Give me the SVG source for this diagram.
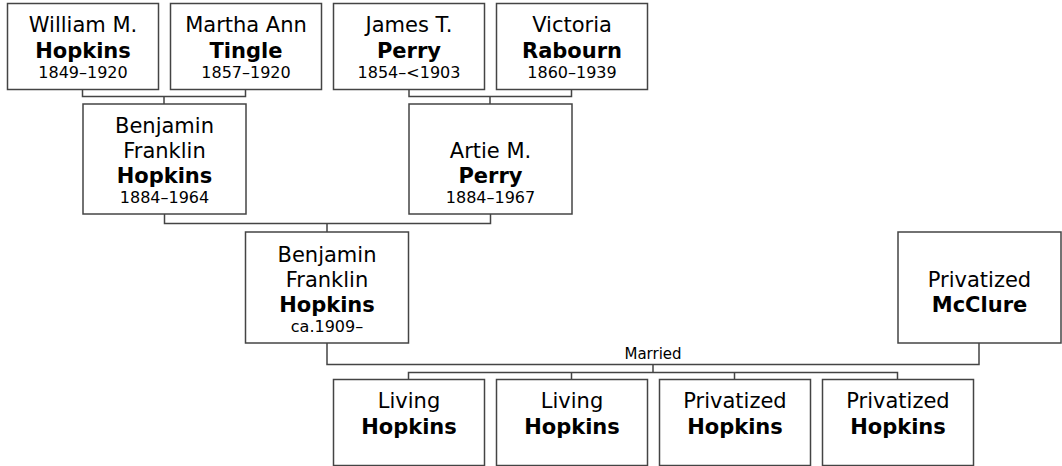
<svg xmlns="http://www.w3.org/2000/svg" width="1062" height="466" viewBox="0 0 1062 466">
<style>
.box{fill:#fff;stroke:#444;stroke-width:1.5}
.con{fill:none;stroke:#444;stroke-width:1.5}
text{font-family:"DejaVu Sans","Verdana",sans-serif;fill:#000;text-anchor:middle}
.n{font-size:21px}
.b{font-size:21px;font-weight:bold}
.d{font-size:16px}
.m{font-size:15px}
</style>
<rect width="1062" height="466" fill="#fff"/>
<g id="connectors">
<path class="con" d="M82.5 89V96.5H245.5V89M164 96.5V104"/>
<path class="con" d="M409 89V96.5H571.5V89M490 96.5V104"/>
<path class="con" d="M164.5 214V223.5H490.5V214M327 223.5V232"/>
<path class="con" d="M327 343V364.5H979V343"/>
<path class="con" d="M653 364.5V372.5"/>
<path class="con" d="M408.5 379V372.5H897.5V379M571.5 372.5V379M734.5 372.5V379"/>
<text class="m" x="653" y="359">Married</text>
</g>
<g id="william">
<rect class="box" x="7.5" y="3.5" width="151" height="86"/>
<text class="n" x="83" y="32">William M.</text>
<text class="b" x="83" y="58">Hopkins</text>
<text class="d" x="83" y="78">1849–1920</text>
</g>
<g id="martha">
<rect class="box" x="170.5" y="3.5" width="151" height="86"/>
<text class="n" x="246" y="32">Martha Ann</text>
<text class="b" x="246" y="58">Tingle</text>
<text class="d" x="246" y="78">1857–1920</text>
</g>
<g id="james">
<rect class="box" x="333.5" y="3.5" width="151" height="86"/>
<text class="n" x="409" y="32">James T.</text>
<text class="b" x="409" y="58">Perry</text>
<text class="d" x="409" y="78">1854–&lt;1903</text>
</g>
<g id="victoria">
<rect class="box" x="496.5" y="3.5" width="151" height="86"/>
<text class="n" x="572" y="32">Victoria</text>
<text class="b" x="572" y="58">Rabourn</text>
<text class="d" x="572" y="78">1860–1939</text>
</g>
<g id="benjamin1">
<rect class="box" x="83" y="104" width="163" height="110"/>
<text class="n" x="164.5" y="133">Benjamin</text>
<text class="n" x="164.5" y="158">Franklin</text>
<text class="b" x="164.5" y="183">Hopkins</text>
<text class="d" x="164.5" y="203">1884–1964</text>
</g>
<g id="artie">
<rect class="box" x="409" y="104" width="163" height="110"/>
<text class="n" x="490.5" y="158">Artie M.</text>
<text class="b" x="490.5" y="183">Perry</text>
<text class="d" x="490.5" y="203">1884–1967</text>
</g>
<g id="benjamin2">
<rect class="box" x="245.5" y="232" width="163" height="111"/>
<text class="n" x="327" y="262">Benjamin</text>
<text class="n" x="327" y="287">Franklin</text>
<text class="b" x="327" y="312">Hopkins</text>
<text class="d" x="327" y="332">ca.1909–</text>
</g>
<g id="mcclure">
<rect class="box" x="898" y="232" width="163" height="111"/>
<text class="n" x="979.5" y="287">Privatized</text>
<text class="b" x="979.5" y="312">McClure</text>
</g>
<g id="child1">
<rect class="box" x="333.5" y="379.5" width="151" height="86"/>
<text class="n" x="409" y="408">Living</text>
<text class="b" x="409" y="434">Hopkins</text>
</g>
<g id="child2">
<rect class="box" x="496.5" y="379.5" width="151" height="86"/>
<text class="n" x="572" y="408">Living</text>
<text class="b" x="572" y="434">Hopkins</text>
</g>
<g id="child3">
<rect class="box" x="659.5" y="379.5" width="151" height="86"/>
<text class="n" x="735" y="408">Privatized</text>
<text class="b" x="735" y="434">Hopkins</text>
</g>
<g id="child4">
<rect class="box" x="822.5" y="379.5" width="151" height="86"/>
<text class="n" x="898" y="408">Privatized</text>
<text class="b" x="898" y="434">Hopkins</text>
</g>
</svg>
